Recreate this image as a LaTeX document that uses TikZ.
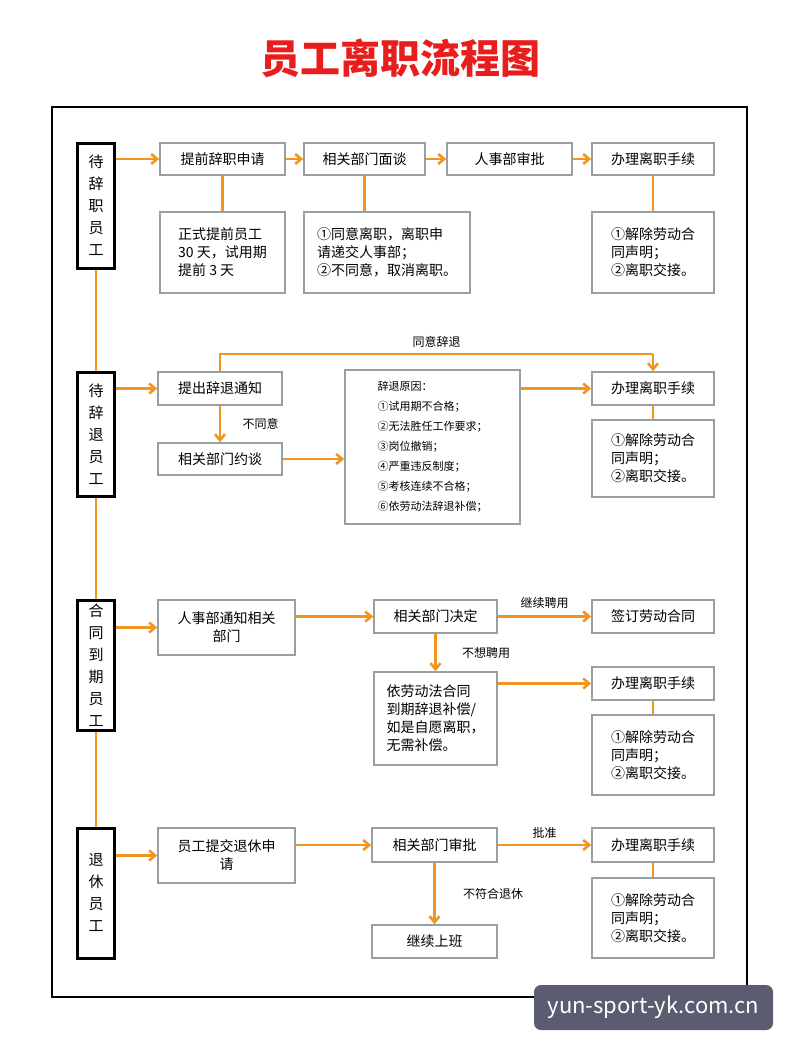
\documentclass[tikz,border=0pt]{standalone}
\usepackage{fontspec}
\usepackage{tikz}
\usetikzlibrary{arrows.meta}
\usepackage{xcolor}
\setmainfont{Noto Sans CJK SC}
\definecolor{flowor}{RGB}{242, 148, 32}
\definecolor{boxgray}{RGB}{150, 160, 160}
\definecolor{titlered}{RGB}{232, 30, 30}
\definecolor{markgray}{RGB}{92, 92, 112}

\begin{document}
\begin{tikzpicture}[x=1pt, y=-1pt,
    box/.style={draw=boxgray, line width=1.6pt, fill=white, inner sep=0pt, font=\fontsize{14}{18}\selectfont},
    note/.style={box, align=left, inner xsep=7pt},
    cat/.style={draw=black, line width=3pt, fill=white, inner sep=0pt, minimum width=37pt, align=center, font=\fontsize{15}{22}\selectfont},
    flow/.style={flowor, line width=2.6pt},
    arr/.style={flow, ->, >={Straight Barb[length=6pt,width=10pt]}},
    lbl/.style={text=black, font=\fontsize{12}{14}\selectfont}]
            \useasboundingbox (0,0) rectangle (800,1054);
            \fill[white] (0,0) rectangle (800,1054);
            % title and frame
            \node[titlered, font=\bfseries\fontsize{40}{44}\selectfont] (title) at (400,58) {员工离职流程图};
            \draw[line width=2.2pt] (52,107) rectangle (747,997);

            % left column
            \node[cat, minimum height=125pt] (quit) at (96,205.5) {待\\辞\\职\\员\\工};
            \node[cat, minimum height=124pt] (fire) at (96,434) {待\\辞\\退\\员\\工};
            \node[cat, minimum height=130pt] (expire) at (96,665) {合\\同\\到\\期\\员\\工};
            \node[cat, minimum height=130pt] (retire) at (96,893) {退\\休\\员\\工};
            \draw[flow] (quit) -- (fire);
            \draw[flow] (fire) -- (expire);
            \draw[flow] (expire) -- (retire);

            % row 1
            \node[box, minimum width=125pt, minimum height=32pt] (apply) at (222.5,159) {提前辞职申请};
            \node[box, minimum width=121pt, minimum height=32pt] (talk) at (364.5,159) {相关部门面谈};
            \node[box, minimum width=125pt, minimum height=32pt] (hrok) at (509.5,159) {人事部审批};
            \node[box, minimum width=122pt, minimum height=32pt] (leaveA) at (653,159) {办理离职手续};
            \node[note, minimum width=125pt, minimum height=81pt] (applyN) at (222.5,252.5) {正式提前员工\\30 天，试用期\\提前 3 天};
            \node[note, minimum width=166pt, minimum height=81pt] (talkN) at (387,252.5) {①同意离职，离职申\\请递交人事部；\\②不同意，取消离职。};
            \node[note, minimum width=122pt, minimum height=81pt] (leaveAN) at (653,252.5) {①解除劳动合\\同声明；\\②离职交接。};
            \draw[arr] (quit.east |- apply) -- (apply);
            \draw[arr] (apply) -- (talk);
            \draw[arr] (talk) -- (hrok);
            \draw[arr] (hrok) -- (leaveA);
            \draw[flow] (apply) -- (applyN);
            \draw[flow] (talk.south) -- (talk.south |- talkN.north);
            \draw[flow] (leaveA) -- (leaveAN);

            % row 2
            \node[box, minimum width=124pt, minimum height=33pt] (notice) at (220,388.5) {提出辞退通知};
            \node[box, minimum width=124pt, minimum height=32pt] (meet) at (220,459) {相关部门约谈};
            \node[box, align=left, inner xsep=9pt, minimum width=175pt, minimum height=154pt,
                  font=\fontsize{11}{20}\selectfont] (reason) at (432.5,447) {辞退原因：\\①试用期不合格；\\②无法胜任工作要求；\\③岗位撤销；\\④严重违反制度；\\⑤考核连续不合格；\\⑥依劳动法辞退补偿；};
            \node[box, minimum width=122pt, minimum height=33pt] (leaveB) at (653,388.5) {办理离职手续};
            \node[note, minimum width=122pt, minimum height=77pt] (leaveBN) at (653,458.5) {①解除劳动合\\同声明；\\②离职交接。};
            \coordinate (topL) at (220,354);
            \coordinate (topR) at (653,354);
            \draw[arr] (fire.east |- notice) -- (notice);
            \draw[arr] (notice) -- node[lbl, right=18pt] {不同意} (meet);
            \draw[arr] (meet) -- (meet -| reason.west);
            \draw[arr] (reason.east |- leaveB) -- (leaveB);
            \draw[flow] (notice.north) -- (topL) -- node[lbl, above=2pt] {同意辞退} (topR);
            \draw[arr] (topR) -- (leaveB.north);
            \draw[flow] (leaveB) -- (leaveBN);

            % row 3
            \node[box, align=center, minimum width=137pt, minimum height=55pt] (inform) at (226.5,627.5) {人事部通知相关\\部门};
            \node[box, minimum width=123pt, minimum height=33pt] (decide) at (435.5,616.5) {相关部门决定};
            \node[box, minimum width=122pt, minimum height=33pt] (sign) at (653,616.5) {签订劳动合同};
            \node[note, minimum width=123pt, minimum height=93pt] (comp) at (435.5,718.5) {依劳动法合同\\到期辞退补偿/\\如是自愿离职，\\无需补偿。};
            \node[box, minimum width=122pt, minimum height=33pt] (leaveC) at (653,683.5) {办理离职手续};
            \node[note, minimum width=122pt, minimum height=80pt] (leaveCN) at (653,755) {①解除劳动合\\同声明；\\②离职交接。};
            \draw[arr] (expire.east |- inform) -- (inform);
            \draw[arr] (inform.east |- decide) -- (decide);
            \draw[arr] (decide) -- node[lbl, above=3pt] {继续聘用} (sign);
            \draw[arr] (decide) -- node[lbl, right=22pt] {不想聘用} (comp);
            \draw[arr] (comp.east |- leaveC) -- (leaveC);
            \draw[flow] (leaveC) -- (leaveCN);

            % row 4
            \node[box, align=center, minimum width=137pt, minimum height=55pt] (submit) at (226.5,855.5) {员工提交退休申\\请};
            \node[box, minimum width=125pt, minimum height=34pt] (check) at (434.5,845) {相关部门审批};
            \node[box, minimum width=125pt, minimum height=33pt] (stay) at (434.5,941.5) {继续上班};
            \node[box, minimum width=122pt, minimum height=34pt] (leaveD) at (653,845) {办理离职手续};
            \node[note, minimum width=122pt, minimum height=80pt] (leaveDN) at (653,918) {①解除劳动合\\同声明；\\②离职交接。};
            \draw[arr] (retire.east |- submit) -- (submit);
            \draw[arr] (submit.east |- check) -- (check);
            \draw[arr] (check) -- node[lbl, above=2pt] {批准} (leaveD);
            \draw[arr] (check) -- node[lbl, right=24pt] {不符合退休} (stay);
            \draw[flow] (leaveD) -- (leaveDN);

            % watermark
            \node[fill=markgray, rounded corners=7pt, text=white, minimum width=239pt, minimum height=45pt,
                  font=\fontsize{22}{24}\selectfont] (mark) at (653.5,1007.5) {yun-sport-yk.com.cn};
        \end{tikzpicture}
\end{document}
